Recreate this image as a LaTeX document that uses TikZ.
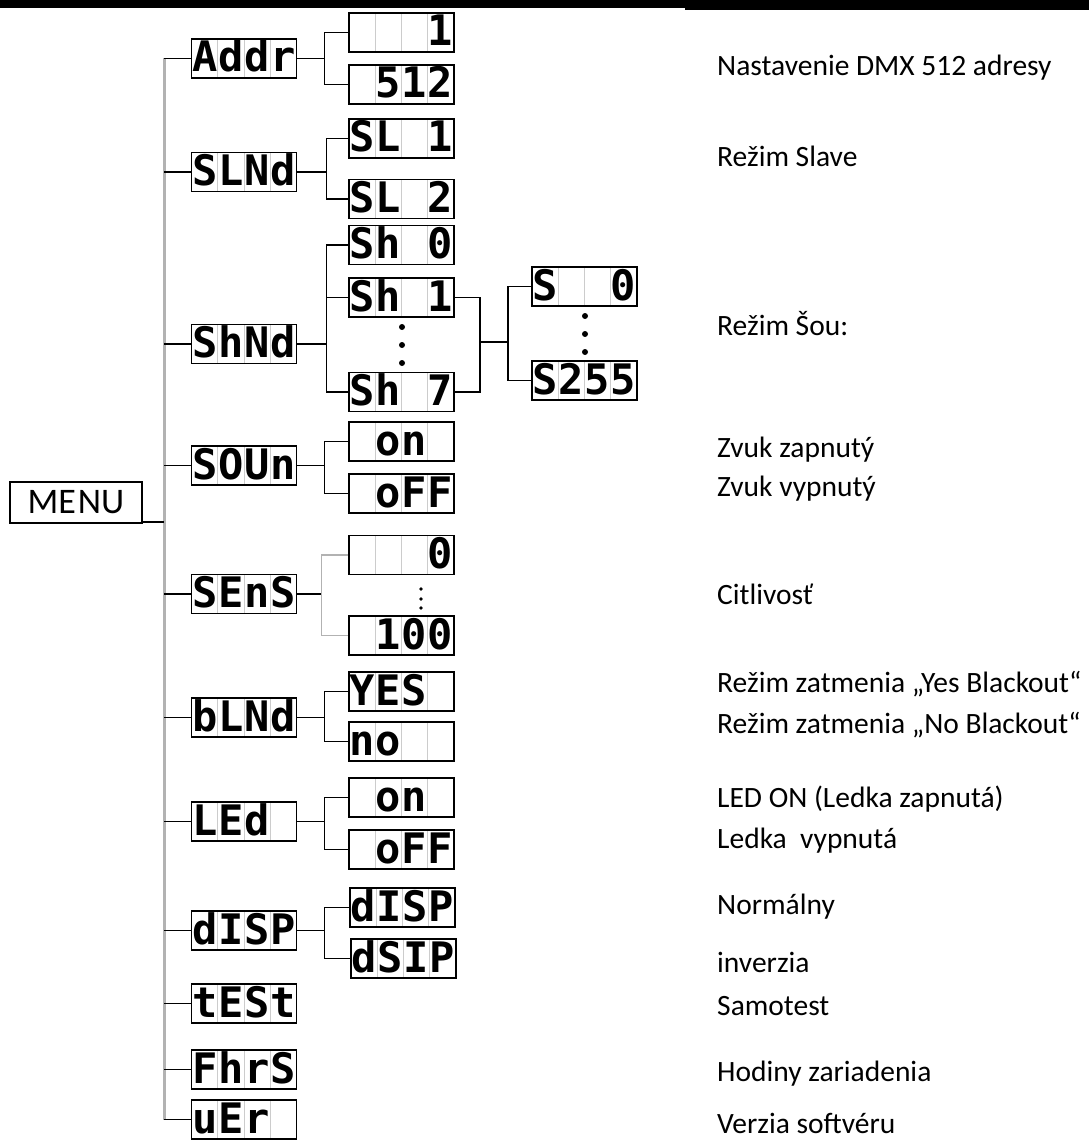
\documentclass[tikz,border=0pt]{standalone}
\usepackage{fontspec}
\setmainfont{Carlito}
\newfontfamily\lcdfont{DejaVu Sans Mono}
\usetikzlibrary{calc}
\usetikzlibrary{positioning}

% four cells of one display
\newcommand{\cells}[4]{\makebox[26pt]{#1}\makebox[26pt]{#2}\makebox[26pt]{#3}\makebox[26pt]{#4}}

\tikzset{
  lcd/.style={draw, line width=1.6pt, minimum width=105pt, minimum height=39pt, inner sep=0pt,
    font=\lcdfont\bfseries\fontsize{42}{42}\selectfont, text height=30pt, text depth=3pt,
    path picture={\foreach \k in {0.25,0.5,0.75}
      \draw[gray!40, line width=1pt] ($(path picture bounding box.north west)!\k!(path picture bounding box.north east)$) -- ($(path picture bounding box.south west)!\k!(path picture bounding box.south east)$);}},
  wire/.style={line width=1.5pt},
  trunk/.style={line width=3pt, gray!60},
  note/.style={anchor=base west, inner sep=0pt, font=\fontsize{29.5}{35}\selectfont},
}

\begin{document}
\begin{tikzpicture}[x=1pt, y=-1pt]

\useasboundingbox (0,0) rectangle (1089,1142);

% black bar on top of the page
\fill (0,0) rectangle (685,8);
\fill (685,0) rectangle (1089,10);

% MENU and the main line
\node[draw, line width=1.5pt, minimum width=132pt, minimum height=41pt, inner sep=0pt, font=\fontsize{36}{36}\selectfont] (menu) at (76,502.5) {ME\kern2pt NU};
\coordinate (trunktop) at (164,58);
\coordinate (trunkbot) at (164,1119.5);
\draw[trunk] (trunktop) -- (trunkbot);
\coordinate (menuout) at ([yshift=2pt]menu.south east);
\draw[wire] (menuout) -- (menuout -| trunktop);

% first level
\node[lcd] (addr) at (244,58.5)   {\cells{A}{d}{d}{r}};
\node[lcd] (slnd) at (244,172)    {\cells{S}{L}{N}{d}};
\node[lcd] (shnd) at (244,344)    {\cells{S}{h}{N}{d}};
\node[lcd] (soun) at (244,465.5)  {\cells{S}{O}{U}{n}};
\node[lcd] (sens) at (244,594)    {\cells{S}{E}{n}{S}};
\node[lcd] (blnd) at (244,717.5)  {\cells{b}{L}{N}{d}};
\node[lcd] (led)  at (244,821.5)  {\cells{L}{E}{d}{}};
\node[lcd] (disp) at (244,930.5)  {\cells{d}{I}{S}{P}};
\node[lcd] (test) at (244,1003.5) {\cells{t}{E}{S}{t}};
\node[lcd] (fhrs) at (244,1069.5) {\cells{F}{h}{r}{S}};
\node[lcd] (ver)  at (244,1119.5) {\cells{u}{E}{r}{}};

\foreach \n in {addr,slnd,shnd,soun,sens,blnd,led,disp,test,fhrs,ver}
  \draw[wire] (\n.west -| trunktop) -- (\n.west);

% second level
\node[lcd] (addra) at (401.5,32.5)  {\cells{}{}{}{1}};
\node[lcd] (addrb) at (401.5,84.5)  {\cells{}{5}{1}{2}};
\node[lcd] (sla)   at (401.5,138.5) {\cells{S}{L}{}{1}};
\node[lcd] (slb)   at (401.5,199)   {\cells{S}{L}{}{2}};
\node[lcd] (sha)   at (401.5,245)   {\cells{S}{h}{}{0}};
\node[lcd] (shb)   at (401.5,297.5) {\cells{S}{h}{}{1}};
\node[lcd] (shc)   at (401.5,392)   {\cells{S}{h}{}{7}};
\node[lcd] (souna) at (401.5,441.5) {\cells{}{o}{n}{}};
\node[lcd] (sounb) at (401.5,493.5) {\cells{}{o}{F}{F}};
\node[lcd] (sensa) at (401.5,555)   {\cells{}{}{}{0}};
\node[lcd] (sensb) at (401.5,635.5) {\cells{}{1}{0}{0}};
\node[lcd] (blnda) at (401.5,691.5) {\cells{Y}{E}{S}{}};
\node[lcd] (blndb) at (401.5,741.5) {\cells{n}{o}{}{}};
\node[lcd] (leda)  at (401.5,797.5) {\cells{}{o}{n}{}};
\node[lcd] (ledb)  at (401.5,849.5) {\cells{}{o}{F}{F}};
\node[lcd] (dispa) at (402.5,907.5) {\cells{d}{I}{S}{P}};
\node[lcd] (dispb) at (403.5,958.5) {\cells{d}{S}{I}{P}};

% third level
\node[lcd] (spda) at (584.5,286.5) {\cells{S}{}{}{0}};
\node[lcd] (spdb) at (584.5,380.5) {\cells{S}{2}{5}{5}};

% forks
\draw[wire] (addr.east) -- ++(27,0) coordinate (addrfork);
\draw[wire] (addra.west) -| (addrfork) |- (addrb.west);
\draw[wire] (slnd.east) -- ++(29,0) coordinate (slfork);
\draw[wire] (sla.west) -| (slfork) |- (slb.west);
\draw[wire] (shnd.east) -- ++(29,0) coordinate (shfork);
\draw[wire] (sha.west) -| (shfork) |- (shc.west);
\draw[wire] (shb.west) -- (shb.west -| shfork);
\draw[wire] (soun.east) -- ++(27,0) coordinate (sounfork);
\draw[wire] (souna.west) -| (sounfork) |- (sounb.west);
\draw[wire] (sens.east) -- ++(24,0) coordinate (sensfork);
\draw[wire, gray!60] (sensa.west) -| (sensfork) |- (sensb.west);
\draw[wire] (blnd.east) -- ++(27,0) coordinate (blndfork);
\draw[wire] (blnda.west) -| (blndfork) |- (blndb.west);
\draw[wire] (led.east) -- ++(27,0) coordinate (ledfork);
\draw[wire] (leda.west) -| (ledfork) |- (ledb.west);
\draw[wire] (disp.east) -- ++(27,0) coordinate (dispfork);
\draw[wire] (dispa.west) -| (dispfork) |- (dispb.west);

% show programs join into the speed values
\coordinate (shjoin) at (480,342);
\draw[wire] (shb.east) -| (shjoin) |- (shc.east);
\draw[wire] (shjoin) -- ++(28,0) coordinate (spdfork);
\draw[wire] (spda.west) -| (spdfork) |- (spdb.west);

% dots between the values
\foreach \y in {327,345,363} \fill (402,\y) circle (3pt);
\foreach \y in {316,334,352} \fill (585,\y) circle (3pt);
\foreach \y in {589,599,608} \fill (421,\y) circle (1.8pt);

% descriptions
\node[note] (naddr) at (717,76)   {Nastavenie DMX 512 adresy};
\node[note] (nsl)   at (717,167)  {Režim Slave};
\node[note] (nsh)   at (717,335)  {Režim Šou:};
\node[note] (nsona) at (717,457)  {Zvuk zapnutý};
\node[note] (nsonb) at (717,496)  {Zvuk vypnutý};
\node[note] (nsens) at (717,604)  {Citlivosť};
\node[note] (nbla)  at (717,692)  {Režim zatmenia „Yes Blackout“};
\node[note] (nblb)  at (717,733)  {Režim zatmenia „No Blackout“};
\node[note] (nleda) at (717,807)  {LED ON (Ledka zapnutá)};
\node[note] (nledb) at (717,848)  {Ledka~ vypnutá};
\node[note] (ndisa) at (717,914)  {Normálny};
\node[note] (ndisb) at (717,972)  {inverzia};
\node[note] (ntest) at (717,1015) {Samotest};
\node[note] (nfhrs) at (717,1081) {Hodiny zariadenia};
\node[note] (nver)  at (717,1133) {Verzia softvéru};

\end{tikzpicture}
\end{document}
